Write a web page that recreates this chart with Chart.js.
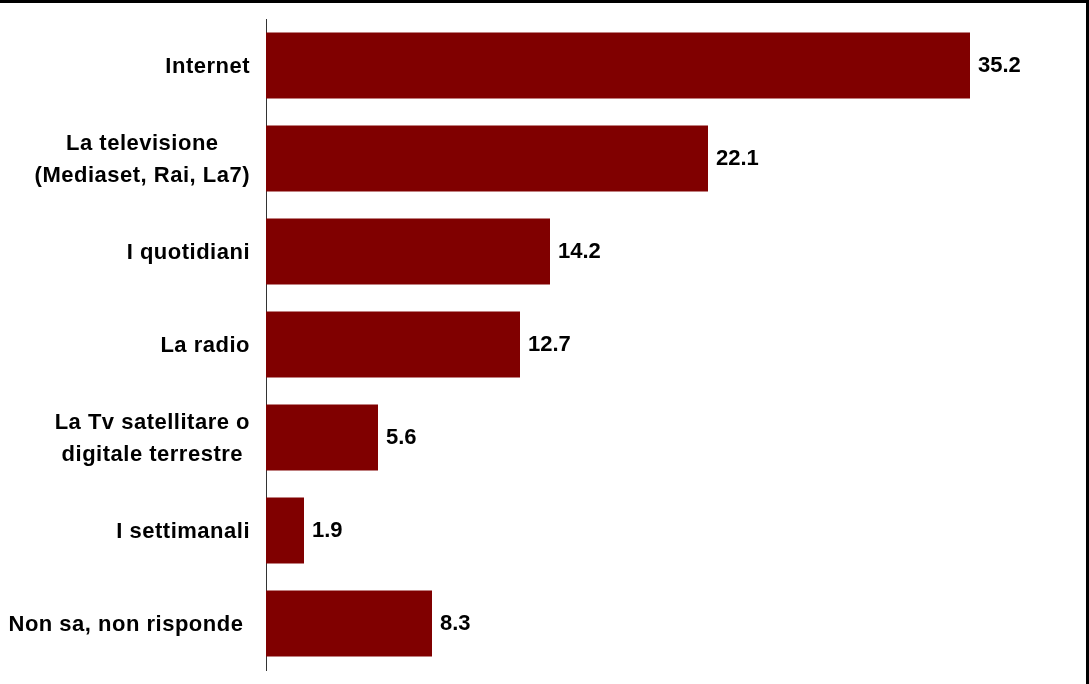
<!DOCTYPE html>
<html>
<head>
<meta charset="utf-8">
<script src="https://cdn.jsdelivr.net/npm/chart.js@4/dist/chart.umd.min.js"></script>
<style>
  html, body { margin: 0; padding: 0; background: #fff; }
  #wrap {
    width: 1089px;
    height: 684px;
    box-sizing: border-box;
    border-top: 3px solid #000;
    border-right: 3px solid #000;
  }
  canvas { display: block; }
</style>
</head>
<body>
<div id="wrap">
  <canvas id="mediaChart" width="1086" height="681"></canvas>
</div>
<script>
// categorie (righe multiple = etichette su due righe)
const categories = [
  ["Internet"],
  ["La televisione", "(Mediaset, Rai, La7)"],
  ["I quotidiani"],
  ["La radio"],
  ["La Tv satellitare o", "digitale terrestre"],
  ["I settimanali"],
  ["Non sa, non risponde "]
];
const values = [35.2, 22.1, 14.2, 12.7, 5.6, 1.9, 8.3];

const labelFont = 'bold 22px "Liberation Sans", Arial, sans-serif';

// draws the category labels (block right-aligned, lines centred) and the bar values
const labelsPlugin = {
  id: "labelsPlugin",
  afterDraw(chart) {
    const ctx = chart.ctx;
    const yScale = chart.scales.y;
    const meta = chart.getDatasetMeta(0);
    ctx.save();
    ctx.font = labelFont;
    ctx.letterSpacing = "0.5px";
    ctx.fillStyle = "#000";
    ctx.textBaseline = "middle";
    const lineH = 32;
    const rightEdge = yScale.right - 16;

    categories.forEach((lines, i) => {
      const yc = yScale.getPixelForValue(i) + 1;
      const widths = lines.map(l => ctx.measureText(l).width);
      const blockW = Math.max(...widths);
      const cx = rightEdge - blockW / 2;
      ctx.textAlign = "center";
      lines.forEach((l, j) => {
        const y = yc + (j - (lines.length - 1) / 2) * lineH;
        ctx.fillText(l, cx, y);
      });
    });

    ctx.letterSpacing = "0px";
    ctx.textAlign = "left";
    meta.data.forEach((bar, i) => {
      ctx.fillText(values[i].toFixed(1), bar.x + 8, bar.y);
    });
    ctx.restore();
  }
};

const ctx = document.getElementById("mediaChart").getContext("2d");
new Chart(ctx, {
  type: "bar",
  data: {
    labels: categories,
    datasets: [{
      data: values,
      backgroundColor: "#800000",
      borderWidth: 0,
      barPercentage: 0.71,
      categoryPercentage: 1.0
    }]
  },
  options: {
    indexAxis: "y",
    responsive: false,
    animation: false,
    layout: { padding: { top: 16, right: 20, bottom: 14, left: 0 } },
    plugins: {
      legend: { display: false },
      tooltip: { enabled: false }
    },
    scales: {
      x: {
        display: false,
        min: 0,
        max: 40
      },
      y: {
        grid: { display: false },
        border: { display: true, color: "#333", width: 1 },
        ticks: { display: false },
        afterFit(scale) { scale.width = 266; }
      }
    }
  },
  plugins: [labelsPlugin]
});
</script>
</body>
</html>
